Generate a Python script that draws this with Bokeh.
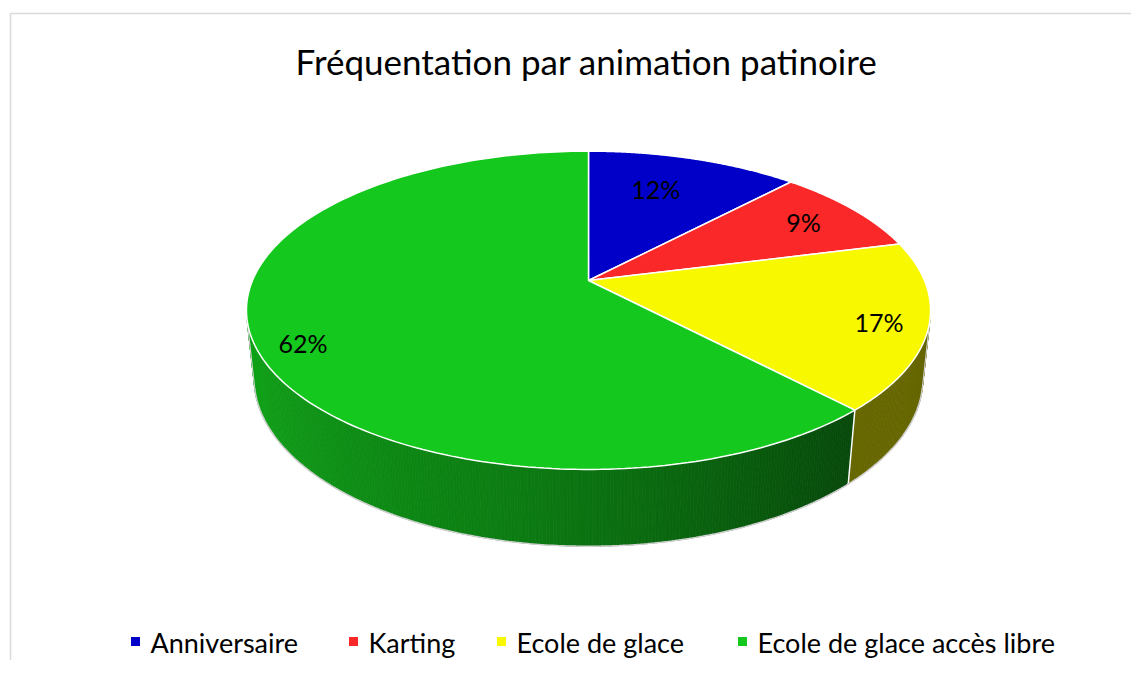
import numpy as np
from bokeh.plotting import figure
from bokeh.models import Range1d
from bokeh.core.properties import value
from bokeh.embed import file_html
from bokeh.resources import INLINE

# ---- data ----
title_text = "Fréquentation par animation patinoire"
categories = ["Anniversaire", "Karting", "Ecole de glace", "Ecole de glace accès libre"]
shares = [12, 9, 17, 62]
labels = ["12%", "9%", "17%", "62%"]
colors = [(0, 0, 200), (250, 40, 40), (248, 248, 0), (20, 200, 30)]

# ---- layout ----
W, H = 1131, 660
p = figure(width=W, height=H, output_backend="svg", toolbar_location=None,
           x_range=Range1d(0, W), y_range=Range1d(H, 0),
           min_border=0, background_fill_color="white", border_fill_color="white")
p.axis.visible = False
p.grid.visible = False
p.outline_line_color = None

FONT = "Lato"

# chart frame
p.segment(x0=[10, 10], y0=[13, 13], x1=[W, 10], y1=[13, H],
          line_color="#D9D9D9", line_width=1.5)

# 3D pie projection parameters
CX, CY = 588, 280          # apex on screen
S = 336.0                  # screen scale
RD = 0.2106                # R / camera distance
SPHI, CPHI = 0.457, 0.889  # sin/cos of elevation
THICK = 0.2286             # thickness in radius units


def proj(theta_deg, r, y):
    t = np.radians(theta_deg)
    X = r * np.sin(t)
    Z = r * np.cos(t)
    depth = 1 + RD * (-y * SPHI + Z * CPHI)
    sx = S * X / depth
    sy = S * (y * CPHI + Z * SPHI) / depth
    return CX + sx, CY - sy


def hexcol(c, f=1.0):
    return "#%02x%02x%02x" % tuple(int(max(0, min(255, round(v * f)))) for v in c)


total = float(sum(shares))
bounds = np.concatenate([[0], np.cumsum(shares)]) / total * 360.0

# visible wall angular range (faces toward camera)
cam_z = -(1 / RD) * CPHI
th_lo = np.degrees(np.arccos(1 / cam_z))
th_hi = 360 - th_lo

shade_t = [90, 137, 190, 270]
shade_f = [0.41, 0.36, 0.62, 0.87]

# walls
for i, c in enumerate(colors):
    a0, a1 = bounds[i], bounds[i + 1]
    lo, hi = max(a0, th_lo), min(a1, th_hi)
    if hi <= lo:
        continue
    n = max(2, int((hi - lo) / 0.5))
    ts = np.linspace(lo, hi, n + 1)
    xs, ys, fc = [], [], []
    for k in range(n):
        t0, t1 = ts[k], ts[k + 1]
        xa, ya = proj(t0, 1, 0)
        xb, yb = proj(t1, 1, 0)
        xc, yc = proj(t1, 1, -THICK)
        xd, yd = proj(t0, 1, -THICK)
        xs.append([xa, xb, xc, xd])
        ys.append([ya, yb, yc, yd])
        f = np.interp((t0 + t1) / 2, shade_t, shade_f)
        if i == 2:
            f = 0.41
        fc.append(hexcol(c, f))
    p.patches(xs, ys, fill_color=fc, line_color=fc, line_width=0.8)
    if lo == a0:
        xa, ya = proj(a0, 1, 0)
        xd, yd = proj(a0, 1, -THICK)
        p.line([xa, xd], [ya, yd], line_color="white", line_width=1.5)

# wall outline
tb = np.linspace(th_lo, th_hi, 300)
bx, by = proj(tb, 1, -THICK)
p.line(bx, by, line_color="#D0D0D0", line_width=1.5)
for tt in (th_lo, th_hi):
    xa, ya = proj(tt, 1, 0)
    xd, yd = proj(tt, 1, -THICK)
    p.line([xa, xd], [ya, yd], line_color="#D0D0D0", line_width=1.2)

# top faces
for i, c in enumerate(colors):
    ts = np.linspace(bounds[i], bounds[i + 1], 200)
    ax, ay = proj(ts, 1, 0)
    xs = np.concatenate([[CX], ax])
    ys = np.concatenate([[CY], ay])
    p.patch(xs, ys, fill_color=hexcol(c), line_color="white", line_width=1.5)

# data labels
lab_r = [0.6, 0.8, 0.86, 0.86]
lab_dy = [-14, 0, 3, 11]
lx, ly = [], []
for i in range(len(shares)):
    mid = (bounds[i] + bounds[i + 1]) / 2
    x, y = proj(mid, lab_r[i], 0)
    lx.append(float(x))
    ly.append(float(y) + lab_dy[i])
p.text(x=lx, y=ly, text=labels, text_align="center", text_baseline="middle",
       text_font=value(FONT), text_font_size="25px", text_color="black")

# title
p.text(x=[586], y=[60], text=[title_text], text_align="center", text_baseline="middle",
       text_font=value(FONT), text_font_size="35px", text_color="black")

# legend
leg_sq_x = [135, 353, 501, 742]
leg_tx_x = [150, 368, 516, 757]
leg_y = 642
p.scatter(x=leg_sq_x, y=[leg_y - 1] * 4, marker="square", size=9,
          fill_color=[hexcol(c) for c in colors], line_color=None)
p.text(x=leg_tx_x, y=[leg_y] * 4, text=categories, text_align="left", text_baseline="middle",
       text_font=value(FONT), text_font_size="27px", text_color="black")

open("out.html", "w").write(file_html(p, INLINE))
